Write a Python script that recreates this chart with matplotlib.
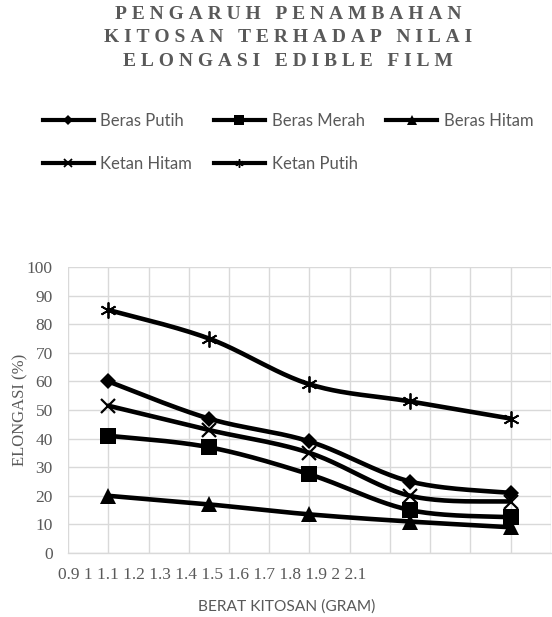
import numpy as np
import matplotlib.pyplot as plt
from matplotlib.lines import Line2D

# berat kitosan (gram) and elongation (%) per raw material
kitosan = [1.0, 1.25, 1.5, 1.75, 2.0]
beras_putih = [60, 47, 39, 25, 21]
beras_merah = [41, 37, 27.5, 15, 12.5]
beras_hitam = [20, 17, 13.5, 11, 9]
ketan_hitam = [51.5, 43, 35, 20, 18]
ketan_putih = [85, 75, 59, 53, 47]

x_labels = ['0.9', '1', '1.1', '1.2', '1.3', '1.4', '1.5', '1.6', '1.7',
            '1.8', '1.9', '2', '2.1']
y_ticks = [0, 10, 20, 30, 40, 50, 60, 70, 80, 90, 100]

title_lines = ['PENGARUH PENAMBAHAN', 'KITOSAN TERHADAP NILAI',
               'ELONGASI EDIBLE FILM']

GRAY = '#595959'
GRID = '#d9d9d9'
SERIF = ['Liberation Serif', 'DejaVu Serif']
SANS = ['Lato', 'DejaVu Sans']


def smooth(xs, ys, n=40):
    # bezier smoothing through the points, like a spreadsheet "smoothed line"
    p = np.column_stack([xs, ys]).astype(float)
    ext = np.vstack([p[0], p, p[-1]])
    t = np.linspace(0, 1, n)[:, None]
    parts = []
    for i in range(len(p) - 1):
        p0, p1, p2, p3 = ext[i], ext[i + 1], ext[i + 2], ext[i + 3]
        c1 = p1 + (p2 - p0) / 6
        c2 = p2 - (p3 - p1) / 6
        seg = (1 - t) ** 3 * p1 + 3 * (1 - t) ** 2 * t * c1 \
            + 3 * (1 - t) * t ** 2 * c2 + t ** 3 * p2
        parts.append(seg if i == 0 else seg[1:])
    seg = np.vstack(parts)
    return seg[:, 0], seg[:, 1]


series = [
    ('Beras Putih', beras_putih, dict(marker='D', ms=8.5, mew=0)),
    ('Beras Merah', beras_merah, dict(marker='s', ms=11.5, mew=0)),
    ('Beras Hitam', beras_hitam, dict(marker='^', ms=12, mew=0)),
    ('Ketan Hitam', ketan_hitam, dict(marker='x', ms=10, mew=1.6)),
    ('Ketan Putih', ketan_putih, dict(marker=(6, 2, 0), ms=11.5, mew=1.3)),
]
legend_ms = {'D': 5, 's': 7, '^': 7}

fig = plt.figure(figsize=(5.52, 6.17), dpi=100)
ax = fig.add_axes([68 / 552, 64 / 617, 483 / 552, 286 / 617])

handles = []
for name, vals, mk in series:
    sx, sy = smooth(kitosan, vals)
    ax.plot(sx, sy, color='black', lw=3.3, solid_capstyle='round', zorder=3)
    ax.plot(kitosan, vals, ls='none', color='black', mec='black',
            zorder=4, **mk)
    m = mk['marker']
    handles.append(Line2D([], [], color='black', lw=3, marker=m,
                          ms=legend_ms.get(m, 6), mew=mk['mew'] * 0.8,
                          mec='black', label=name))

x_ticks = [float(v) for v in x_labels]
ax.set_xlim(x_ticks[0], x_ticks[-1])
ax.set_ylim(y_ticks[0], y_ticks[-1])
ax.set_xticks(x_ticks)
ax.set_yticks(y_ticks)
ax.grid(True, color=GRID, lw=1.0)
ax.set_axisbelow(True)
for side in ['top', 'right', 'left']:
    ax.spines[side].set_visible(False)
ax.spines['bottom'].set_color(GRID)
ax.spines['bottom'].set_linewidth(1.0)
ax.tick_params(axis='x', length=0, labelbottom=False)
ax.tick_params(axis='y', length=0, pad=11, labelsize=12.5, labelcolor=GRAY)
for lab in ax.get_yticklabels():
    lab.set_fontfamily(SERIF)

# the x labels sit packed together in one run under the axis
fig.text(58 / 552, 1 - 575 / 617, ' '.join(x_labels), ha='left', va='center',
         fontsize=12.5, color=GRAY, family=SERIF)
fig.text(287 / 552, 1 - 607 / 617, 'BERAT KITOSAN (GRAM)', ha='center',
         va='center', fontsize=11.2, color=GRAY, family=SANS)
fig.text(20 / 552, 1 - 410 / 617, 'ELONGASI (%)', ha='center', va='center',
         rotation=90, fontsize=12, color=GRAY, family=SERIF)

# letter-spaced bold title
sp = '\u2005'
for i, line in enumerate(title_lines):
    fig.text(288 / 552, 1 - (14.5 + 23.5 * i) / 617, sp.join(line),
             ha='center', va='center', fontsize=14, fontweight='bold',
             color=GRAY, family=SERIF)

order = [0, 3, 1, 4, 2]
fig.legend([handles[i] for i in order],
           [handles[i].get_label() for i in order],
           loc='upper left', bbox_to_anchor=(43 / 552, 1 - 113 / 617),
           ncol=3, frameon=False, borderpad=0, borderaxespad=0,
           handlelength=3.05, handletextpad=0.4, columnspacing=1.3,
           labelspacing=1.6, prop={'family': SANS, 'size': 12},
           labelcolor=GRAY)

fig.savefig('out.png', dpi=100)
